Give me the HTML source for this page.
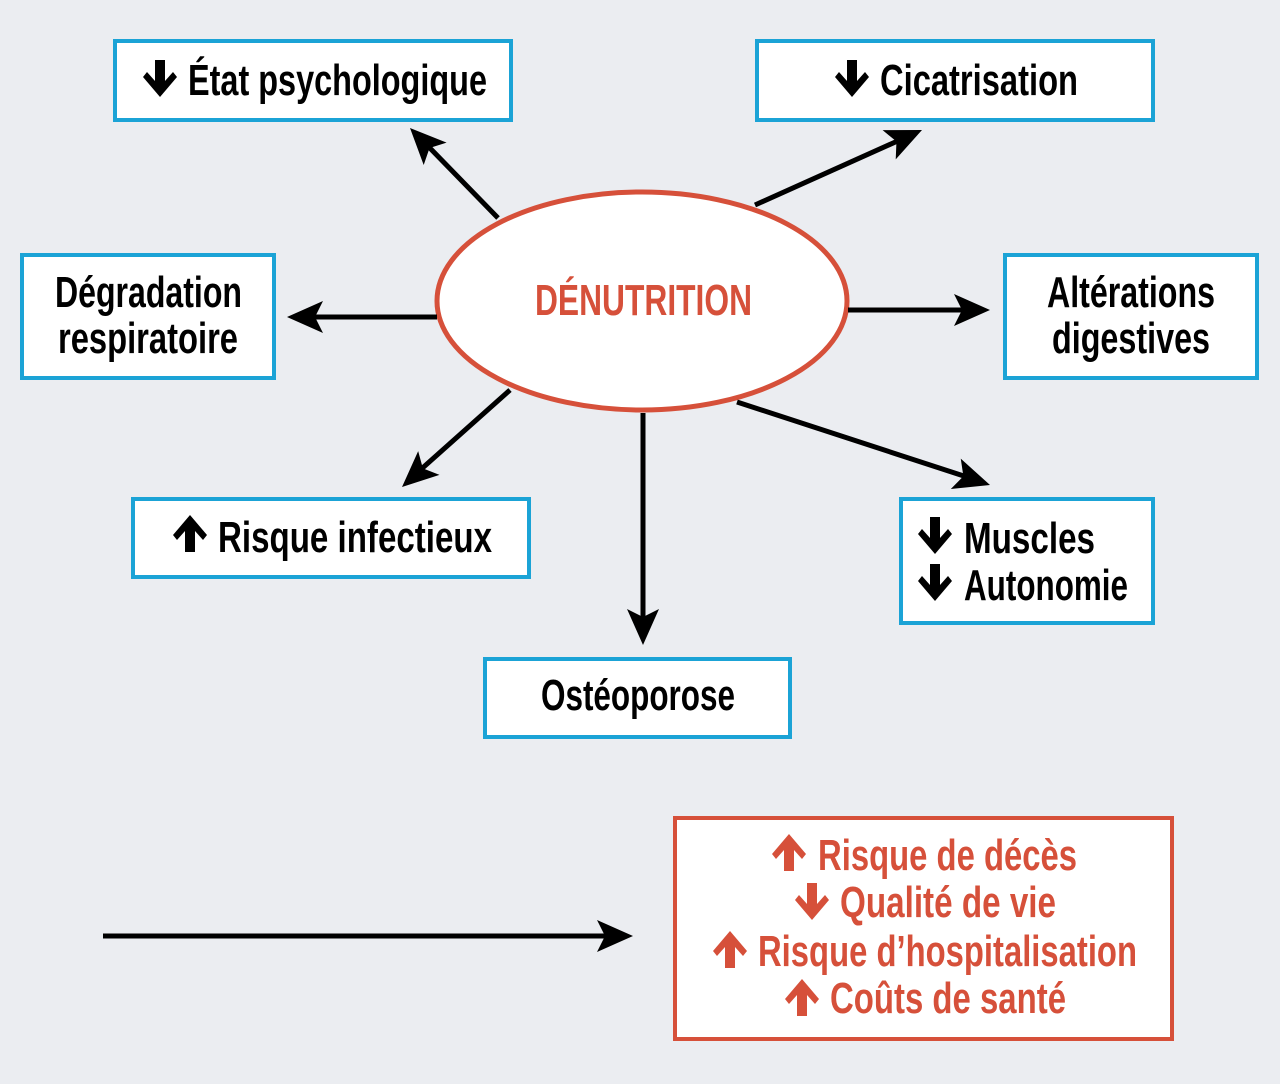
<!DOCTYPE html>
<html><head><meta charset="utf-8"><style>
html,body{margin:0;padding:0;background:#ebedf1;}
svg{display:block}
text{font-family:"Liberation Sans Narrow","Liberation Sans",sans-serif;font-weight:bold;font-size:44px;}
</style></head><body>
<svg width="1280" height="1084" viewBox="0 0 1280 1084" xmlns="http://www.w3.org/2000/svg">
<defs>
<marker id="ah" markerWidth="10" markerHeight="10" refX="9" refY="5" orient="auto" markerUnits="userSpaceOnUse" viewBox="0 0 10 10" >
</marker>
<symbol id="dn" viewBox="0 0 34 37"><path d="M12,0 H22 V21 L30,12 L34,17 L17,37 L0,17 L4,12 L12,21 Z" fill="currentColor"/></symbol>
<symbol id="up" viewBox="0 0 34 37"><path d="M12,37 H22 V16 L30,25 L34,20 L17,0 L0,20 L4,25 L12,16 Z" fill="currentColor"/></symbol>
</defs>
<rect width="1280" height="1084" fill="#ebedf1"/>

<g fill="#fff" stroke="#1ba3d6" stroke-width="4">
<rect x="115" y="41" width="396" height="79"/>
<rect x="757" y="41" width="396" height="79"/>
<rect x="22" y="255" width="252" height="123"/>
<rect x="1005" y="255" width="252" height="123"/>
<rect x="133" y="499" width="396" height="78"/>
<rect x="901" y="499" width="252" height="124"/>
<rect x="485" y="659" width="305" height="78"/>
</g>
<rect x="675" y="818" width="497" height="221" fill="#fff" stroke="#d6503a" stroke-width="4"/>

<ellipse cx="642" cy="301" rx="205" ry="109" fill="#fff" stroke="#d6503a" stroke-width="5"/>

<g stroke="#000" stroke-width="5" fill="none">
<line x1="498" y1="218" x2="425" y2="143"/>
<line x1="755" y1="205" x2="902" y2="139"/>
<line x1="437" y1="317" x2="307" y2="317"/>
<line x1="848" y1="310" x2="970" y2="310"/>
<line x1="510" y1="390" x2="418" y2="472"/>
<line x1="737" y1="402" x2="970" y2="478"/>
<line x1="643" y1="413" x2="643" y2="625"/>
<line x1="103" y1="936" x2="613" y2="936"/>
</g>
<g fill="#000">
<polygon points="0,0 -36,-16 -28,0 -36,16" transform="translate(410,128) rotate(225.7)"/>
<polygon points="0,0 -36,-16 -28,0 -36,16" transform="translate(922,130) rotate(-24.2)"/>
<polygon points="0,0 -36,-16 -28,0 -36,16" transform="translate(287,317) rotate(180)"/>
<polygon points="0,0 -36,-16 -28,0 -36,16" transform="translate(990,310)"/>
<polygon points="0,0 -36,-16 -28,0 -36,16" transform="translate(402,487) rotate(138.2)"/>
<polygon points="0,0 -36,-16 -28,0 -36,16" transform="translate(990,485) rotate(18.1)"/>
<polygon points="0,0 -36,-16 -28,0 -36,16" transform="translate(643,645) rotate(90)"/>
<polygon points="0,0 -36,-16 -28,0 -36,16" transform="translate(633,936)"/>
</g>

<g style="color:#000">
<use href="#dn" x="143" y="60" width="34" height="37"/>
<use href="#dn" x="835" y="60" width="34" height="37"/>
<use href="#up" x="173" y="515" width="34" height="37"/>
<use href="#dn" x="918" y="517" width="34" height="37"/>
<use href="#dn" x="918" y="564" width="34" height="37"/>
</g>
<g style="color:#d6503a">
<use href="#up" x="772" y="834" width="34" height="37"/>
<use href="#dn" x="795" y="883" width="34" height="37"/>
<use href="#up" x="713" y="931" width="34" height="37"/>
<use href="#up" x="785" y="979" width="34" height="37"/>
</g>

<g fill="#000">
<text x="188" y="95" textLength="299" lengthAdjust="spacingAndGlyphs">État psychologique</text>
<text x="880" y="95" textLength="198" lengthAdjust="spacingAndGlyphs">Cicatrisation</text>
<text x="55" y="307" textLength="187" lengthAdjust="spacingAndGlyphs">Dégradation</text>
<text x="58" y="353" textLength="180" lengthAdjust="spacingAndGlyphs">respiratoire</text>
<text x="1047" y="307" textLength="168" lengthAdjust="spacingAndGlyphs">Altérations</text>
<text x="1052" y="353" textLength="158" lengthAdjust="spacingAndGlyphs">digestives</text>
<text x="218" y="552" textLength="274" lengthAdjust="spacingAndGlyphs">Risque infectieux</text>
<text x="964" y="553" textLength="131" lengthAdjust="spacingAndGlyphs">Muscles</text>
<text x="964" y="600" textLength="164" lengthAdjust="spacingAndGlyphs">Autonomie</text>
<text x="541" y="710" textLength="194" lengthAdjust="spacingAndGlyphs">Ostéoporose</text>
</g>
<g fill="#d6503a">
<text x="535" y="315" textLength="217" lengthAdjust="spacingAndGlyphs">DÉNUTRITION</text>
<text x="818" y="870" textLength="259" lengthAdjust="spacingAndGlyphs">Risque de décès</text>
<text x="840" y="917" textLength="216" lengthAdjust="spacingAndGlyphs">Qualité de vie</text>
<text x="758" y="966" textLength="379" lengthAdjust="spacingAndGlyphs">Risque d’hospitalisation</text>
<text x="830" y="1013" textLength="236" lengthAdjust="spacingAndGlyphs">Coûts de santé</text>
</g>
</svg>
</body></html>
